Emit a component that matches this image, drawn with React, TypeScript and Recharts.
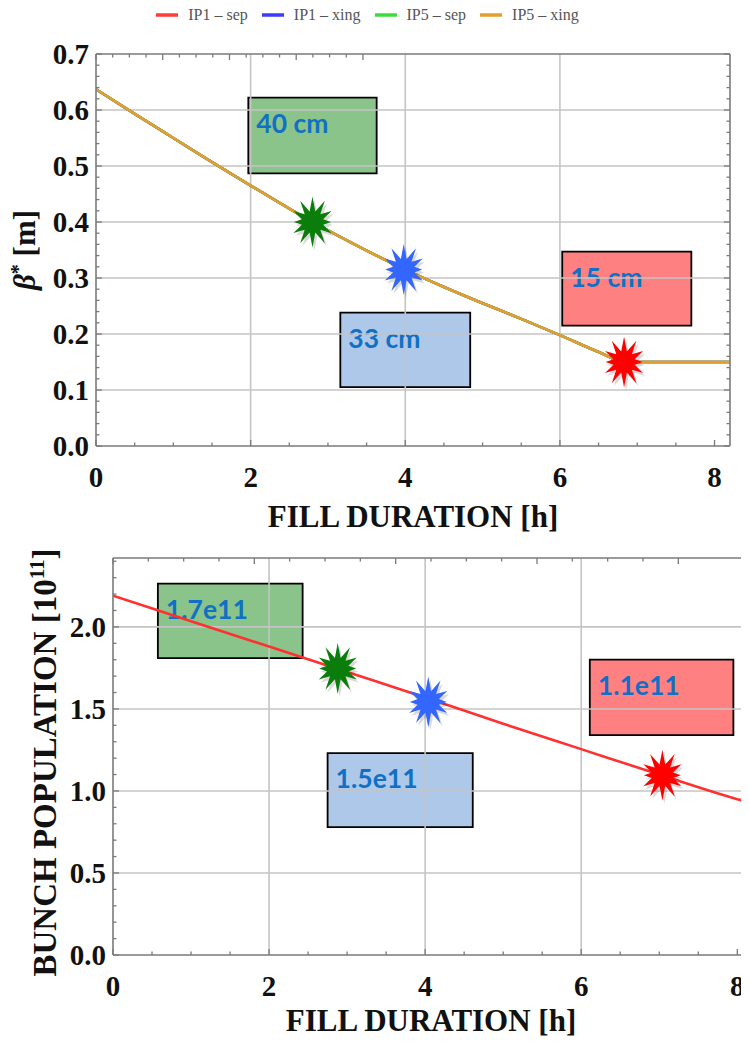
import React from 'react';
import {
  ComposedChart,
  Line,
  Scatter,
  Cell,
  XAxis,
  YAxis,
  ReferenceLine,
  ReferenceArea,
  Legend,
  Label,
} from 'recharts';

// beta* along the fill (the four IP curves sit on top of each other)
const fillHours = [0, 0.5, 1, 1.5, 2, 2.5, 2.8, 3, 3.5, 4, 4.5, 5, 5.5, 6, 6.5, 6.85, 7, 7.5, 8, 8.2];
const betaStar = [0.637, 0.593, 0.55, 0.507, 0.465, 0.424, 0.4, 0.385, 0.349, 0.315, 0.284, 0.255, 0.227, 0.198, 0.168, 0.15, 0.15, 0.15, 0.15, 0.15];

// bunch population along the fill, in 1e11
const popHours = [0, 1, 2, 3, 4, 5, 6, 7, 8, 8.15];
const bunchPop = [2.19, 2.035, 1.88, 1.725, 1.57, 1.41, 1.255, 1.1, 0.95, 0.93];

const seriesNames = ['IP1 – sep', 'IP1 – xing', 'IP5 – sep', 'IP5 – xing'];

// leveling steps marked on each curve
const betaMarkX = [2.8, 3.98, 6.83];
const betaMarkY = [0.4, 0.315, 0.15];
const popMarkX = [2.88, 4.04, 7.04];
const popMarkY = [1.746, 1.543, 1.096];

// annotation boxes
const betaBoxText = ['40 cm', '33 cm', '15 cm'];
const betaBoxX = [[1.97, 3.63], [3.16, 4.84], [6.03, 7.7]];
const betaBoxY = [[0.487, 0.622], [0.105, 0.238], [0.215, 0.347]];
const popBoxText = ['1.7e11', '1.5e11', '1.1e11'];
const popBoxX = [[0.575, 2.43], [2.75, 4.61], [6.11, 7.95]];
const popBoxY = [[1.81, 2.264], [0.78, 1.23], [1.34, 1.8]];

// grid positions
const hourGrid = [2, 4, 6];
const betaGrid = [0.1, 0.2, 0.3, 0.4, 0.5, 0.6];
const popGrid = [0.5, 1, 1.5, 2];

// frame tick positions (major + minor)
const hourTicks = Array.from({ length: 17 }, (_, i) => i * 0.5);
const betaTicks = Array.from({ length: 36 }, (_, i) => +(i * 0.02).toFixed(2));
const popTicks = Array.from({ length: 25 }, (_, i) => +(i * 0.1).toFixed(1));

const seriesColors = ['#ff3b3b', '#3b3bff', '#3bdc3b', '#e39e2e'];
const markColors = ['#0a7d0a', '#3366ff', '#ff0000'];
const boxFills = ['#3c9d3c', '#76a3d9', '#ff2b2b'];

const FRAME = '#7a7a7a';
const GRID = '#c4c4c4';
const SERIF = '"Liberation Serif", "Times New Roman", serif';
const BOX_FONT = 'Lato, "Open Sans", sans-serif';

const betaData = fillHours.map((x, i) => ({ x, y: betaStar[i] }));
const popData = popHours.map((x, i) => ({ x, y: bunchPop[i] }));
const betaMarks = betaMarkX.map((x, i) => ({ x, y: betaMarkY[i] }));
const popMarks = popMarkX.map((x, i) => ({ x, y: popMarkY[i] }));

const onStep = (v: number, step: number) => Math.abs(v / step - Math.round(v / step)) < 1e-6;

// inward frame ticks; labelled ones get text outside the frame
const bottomTick = (labelStep: number) => (p: any) => {
  const { x, y, payload } = p;
  const major = onStep(payload.value, labelStep);
  return (
    <g>
      <line x1={x} y1={y} x2={x} y2={y - (major ? 6 : 3.5)} stroke={FRAME} strokeWidth={1.3} />
      {major && (
        <text x={x} y={y + 41} textAnchor="middle" fontFamily={SERIF} fontWeight={700} fontSize={29} fill="#111">
          {payload.value}
        </text>
      )}
    </g>
  );
};

const topTick = (majorStep: number) => (p: any) => {
  const { x, y, payload } = p;
  const major = onStep(payload.value, majorStep);
  return <line x1={x} y1={y} x2={x} y2={y + (major ? 6 : 3.5)} stroke={FRAME} strokeWidth={1.3} />;
};

const leftTick = (labelStep: number) => (p: any) => {
  const { x, y, payload } = p;
  const major = onStep(payload.value, labelStep);
  return (
    <g>
      <line x1={x} y1={y} x2={x + (major ? 6 : 3.5)} y2={y} stroke={FRAME} strokeWidth={1.3} />
      {major && (
        <text x={x - 7} y={y + 10} textAnchor="end" fontFamily={SERIF} fontWeight={700} fontSize={29} fill="#111">
          {payload.value.toFixed(1)}
        </text>
      )}
    </g>
  );
};

const rightTick = (majorStep: number) => (p: any) => {
  const { x, y, payload } = p;
  const major = onStep(payload.value, majorStep);
  return <line x1={x} y1={y} x2={x - (major ? 6 : 3.5)} y2={y} stroke={FRAME} strokeWidth={1.3} />;
};

const starPoints = (cx: number, cy: number) => {
  const pts: string[] = [];
  for (let i = 0; i < 24; i++) {
    const a = (Math.PI * i) / 12;
    const r = i % 2 === 0 ? 18.5 + 7 * Math.abs(Math.cos(a)) : 11;
    pts.push(`${(cx + r * Math.sin(a)).toFixed(1)},${(cy - r * Math.cos(a)).toFixed(1)}`);
  }
  return pts.join(' ');
};

const Star = (p: any) => {
  const { cx, cy, fill } = p;
  return (
    <g>
      <polygon points={starPoints(cx + 2, cy + 3)} fill="#000" opacity={0.15} />
      <polygon points={starPoints(cx, cy)} fill={fill} />
    </g>
  );
};

const boxLabel = (text: string) => (p: any) => {
  const vb = p.viewBox;
  return (
    <text x={vb.x + 8} y={vb.y + 35} fontFamily={BOX_FONT} fontWeight={700} fontSize={26.5} fill="#1170c4">
      {text}
    </text>
  );
};

const xTitle = (dy: number) => (p: any) => {
  const vb = p.viewBox;
  return (
    <text x={vb.x + vb.width / 2} y={vb.y + dy} textAnchor="middle" fontFamily={SERIF} fontWeight={700} fontSize={31} fill="#111">
      FILL DURATION [h]
    </text>
  );
};

const betaTitle = (p: any) => {
  const vb = p.viewBox;
  const cx = vb.x + 35;
  const cy = vb.y + vb.height / 2;
  return (
    <text x={cx} y={cy} transform={`rotate(-90 ${cx} ${cy})`} textAnchor="middle" fontFamily={SERIF} fontWeight={700} fontSize={31} fill="#111">
      <tspan fontStyle="italic">β</tspan>
      <tspan dy={-10} fontSize={20}>*</tspan>
      <tspan dy={10}> [m]</tspan>
    </text>
  );
};

const popTitle = (p: any) => {
  const vb = p.viewBox;
  const cx = vb.x + 56;
  const cy = vb.y + vb.height / 2 + 6;
  return (
    <text x={cx} y={cy} transform={`rotate(-90 ${cx} ${cy})`} textAnchor="middle" fontFamily={SERIF} fontWeight={700} fontSize={33} fill="#111">
      BUNCH POPULATION [10
      <tspan dy={-12} fontSize={21}>11</tspan>
      <tspan dy={12}>]</tspan>
    </text>
  );
};

// legend row: short coloured strokes followed by grey serif names
const LegendRow = (props: any) => (
  <div style={{ display: 'flex', justifyContent: 'center', gap: 14, paddingRight: 14, fontFamily: SERIF, fontSize: 16, color: '#555', lineHeight: '24px' }}>
    {(props.payload || [])
      .filter((e: any) => e.type !== 'none')
      .map((e: any) => (
        <span key={e.value} style={{ display: 'inline-flex', alignItems: 'center' }}>
          <svg width={22} height={6} style={{ marginRight: 10 }}>
            <line x1={0} y1={3} x2={22} y2={3} stroke={e.color} strokeWidth={3.5} />
          </svg>
          {e.value}
        </span>
      ))}
  </div>
);

const frameLine = { stroke: FRAME, strokeWidth: 1.6 };

const BetaChart = () => (
  <ComposedChart width={749} height={540} data={betaData} margin={{ top: 29, right: 0, bottom: 0, left: 0 }}>
    <Legend verticalAlign="top" content={LegendRow} wrapperStyle={{ top: 3, height: 24 }} />
    <XAxis
      dataKey="x"
      type="number"
      domain={[0, 8.2]}
      allowDataOverflow
      ticks={hourTicks}
      interval={0}
      tickSize={0}
      tickMargin={0}
      tickLine={false}
      axisLine={frameLine}
      height={94}
      tick={bottomTick(2)}
      label={<Label content={xTitle(81)} />}
    />
    <XAxis xAxisId="top" orientation="top" type="number" domain={[0, 8.2]} allowDataOverflow ticks={hourTicks} interval={0} tickSize={0} tickMargin={0} tickLine={false} axisLine={frameLine} height={1} tick={topTick(2)} />
    <YAxis
      type="number"
      domain={[0, 0.7]}
      allowDataOverflow
      ticks={betaTicks}
      interval={0}
      tickSize={0}
      tickMargin={0}
      tickLine={false}
      axisLine={frameLine}
      width={96}
      tick={leftTick(0.1)}
      label={<Label content={betaTitle} />}
    />
    <YAxis yAxisId="right" orientation="right" type="number" domain={[0, 0.7]} allowDataOverflow ticks={betaTicks} interval={0} tickSize={0} tickMargin={0} tickLine={false} axisLine={frameLine} width={19} tick={rightTick(0.1)} />

    {hourGrid.map((v) => (
      <ReferenceLine key={`gx${v}`} x={v} stroke={GRID} strokeWidth={1.6} />
    ))}
    {betaGrid.map((v) => (
      <ReferenceLine key={`gy${v}`} y={v} stroke={GRID} strokeWidth={1.6} />
    ))}

    {seriesNames.map((name, i) => (
      <Line key={name} name={name} dataKey="y" type="monotone" stroke={seriesColors[i]} strokeWidth={2.6} dot={false} activeDot={false} isAnimationActive={false} />
    ))}

    {betaBoxText.map((t, i) => (
      <ReferenceArea
        key={t}
        x1={betaBoxX[i][0]}
        x2={betaBoxX[i][1]}
        y1={betaBoxY[i][0]}
        y2={betaBoxY[i][1]}
        fill={boxFills[i]}
        fillOpacity={0.6}
        stroke="#000"
        strokeWidth={1.8}
        label={<Label content={boxLabel(t)} />}
      />
    ))}

    <Scatter data={betaMarks} dataKey="y" legendType="none" shape={Star} isAnimationActive={false}>
      {betaMarks.map((_, i) => (
        <Cell key={i} fill={markColors[i]} />
      ))}
    </Scatter>
  </ComposedChart>
);

const PopChart = () => (
  <ComposedChart width={749} height={524} data={popData} margin={{ top: 37, right: 0, bottom: 0, left: 0 }}>
    <XAxis
      dataKey="x"
      type="number"
      domain={[0, 8.15]}
      allowDataOverflow
      ticks={hourTicks}
      interval={0}
      tickSize={0}
      tickMargin={0}
      tickLine={false}
      axisLine={frameLine}
      height={89}
      tick={bottomTick(2)}
      label={<Label content={xTitle(76)} />}
    />
    <XAxis xAxisId="top" orientation="top" type="number" domain={[0, 8.15]} allowDataOverflow ticks={hourTicks} interval={0} tickSize={0} tickMargin={0} tickLine={false} axisLine={frameLine} height={1} tick={topTick(2)} />
    <YAxis
      type="number"
      domain={[0, 2.42]}
      allowDataOverflow
      ticks={popTicks}
      interval={0}
      tickSize={0}
      tickMargin={0}
      tickLine={false}
      axisLine={frameLine}
      width={113}
      tick={leftTick(0.5)}
      label={<Label content={popTitle} />}
    />

    {hourGrid.map((v) => (
      <ReferenceLine key={`gx${v}`} x={v} stroke={GRID} strokeWidth={1.6} />
    ))}
    {popGrid.map((v) => (
      <ReferenceLine key={`gy${v}`} y={v} stroke={GRID} strokeWidth={1.6} />
    ))}

    <Line dataKey="y" type="monotone" stroke="#ff3030" strokeWidth={2.6} dot={false} activeDot={false} isAnimationActive={false} />

    {popBoxText.map((t, i) => (
      <ReferenceArea
        key={t}
        x1={popBoxX[i][0]}
        x2={popBoxX[i][1]}
        y1={popBoxY[i][0]}
        y2={popBoxY[i][1]}
        fill={boxFills[i]}
        fillOpacity={0.6}
        stroke="#000"
        strokeWidth={1.8}
        label={<Label content={boxLabel(t)} />}
      />
    ))}

    <Scatter data={popMarks} dataKey="y" legendType="none" shape={Star} isAnimationActive={false}>
      {popMarks.map((_, i) => (
        <Cell key={i} fill={markColors[i]} />
      ))}
    </Scatter>
  </ComposedChart>
);

export default function App() {
  return (
    <div style={{ position: 'relative', width: 749, height: 1044, margin: -8, background: '#fff', overflow: 'hidden' }}>
      <div style={{ position: 'absolute', left: 0, top: 0 }}>
        <BetaChart />
      </div>
      <div style={{ position: 'absolute', left: 0, top: 520 }}>
        <PopChart />
      </div>
    </div>
  );
}
